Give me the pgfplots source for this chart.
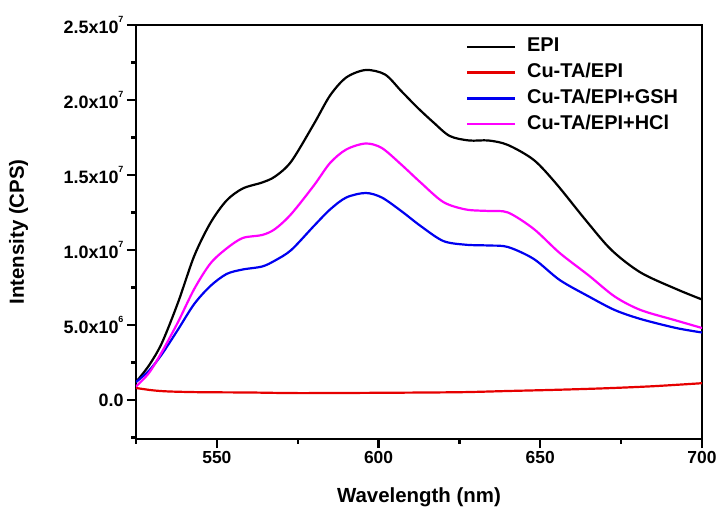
\documentclass[border=0pt]{standalone}
\usepackage{pgfplots}
\pgfplotsset{compat=1.18}
\usepackage{fontspec}
\setmainfont{Liberation Sans}
\definecolor{cRed}{HTML}{E60000}
\definecolor{cBlue}{HTML}{0000F0}
\definecolor{cMag}{HTML}{FF00FF}
\newcommand{\sci}[2]{#1x10\raisebox{0.62em}{\fontsize{9}{9}\selectfont #2}}

\begin{document}
\begin{tikzpicture}
\begin{axis}[
  scale only axis, width=566bp, height=414bp,
  xmin=525, xmax=700, ymin=-2.6e6, ymax=2.5e7,
  axis line style={line width=2.4bp},
  tick pos=left, tick align=outside,
  major tick length=9bp, minor tick length=4.5bp,
  every tick/.style={black, line width=2.2bp},
  xtick={550,600,650,700}, xticklabels={550,600,650,700},
  minor xtick={525,575,625,675},
  ytick={0,5e6,1e7,1.5e7,2e7,2.5e7},
  yticklabels={0.0, \sci{5.0}{6}, \sci{1.0}{7}, \sci{1.5}{7}, \sci{2.0}{7}, \sci{2.5}{7}},
  minor ytick={-2.5e6,2.5e6,7.5e6,1.25e7,1.75e7,2.25e7},
  scaled y ticks=false,
  xticklabel style={font=\fontsize{17.5}{17.5}\selectfont\bfseries},
  yticklabel style={font=\fontsize{18}{18}\selectfont\bfseries},
  label style={font=\fontsize{20.5}{20.5}\selectfont\bfseries},
  xlabel={Wavelength (nm)}, ylabel={Intensity (CPS)},
  xlabel style={at={(axis description cs:0.5,0)}, anchor=center, yshift=-58bp},
  ylabel style={at={(axis description cs:-0.2076,0.5)}, anchor=center},
  legend style={draw=none, fill=none, inner sep=0pt, outer sep=0pt,
    at={(0.5830,0.97)}, anchor=north west,
    font=\fontsize{20}{20}\selectfont\bfseries,
    nodes={inner sep=0pt, text height=14.5bp, text depth=4bp},
    row sep=7.4bp, column sep=11bp},
  legend cell align=left,
  legend image code/.code={\draw[#1] (0bp,0bp) -- (48bp,0bp);},
  every axis plot/.append style={line width=2.2bp, smooth, tension=0.5},
]
\addplot[black] coordinates {
(525,1.2e6) (529,2.3e6) (533,3.8e6) (538,6.5e6) (543,9.6e6) (548,11.8e6)
(553,13.3e6) (558,14.1e6) (564,14.5e6) (568,14.9e6) (573,15.9e6) (580,18.4e6)
(585,20.3e6) (590,21.5e6) (596,22.0e6) (602,21.7e6) (607,20.6e6) (612,19.5e6)
(617,18.5e6) (622,17.6e6) (628,17.3e6) (634,17.3e6) (640,17.0e6) (648,16.0e6)
(655,14.4e6) (664,12.0e6) (672,10.0e6) (681,8.5e6) (692,7.4e6) (700,6.7e6)};
\addlegendentry{EPI}
\addplot[cRed] coordinates {
(525,0.8e6) (530,0.65e6) (535,0.57e6) (545,0.52e6) (560,0.5e6) (575,0.46e6)
(600,0.48e6) (625,0.52e6) (640,0.6e6) (655,0.68e6) (670,0.78e6) (685,0.92e6) (700,1.12e6)};
\addlegendentry{Cu-TA/EPI}
\addplot[cBlue] coordinates {
(525,1.2e6) (529,1.95e6) (533,3.05e6) (538,4.7e6) (543,6.4e6) (548,7.6e6)
(553,8.4e6) (558,8.7e6) (564,8.9e6) (568,9.3e6) (573,10.0e6) (580,11.6e6)
(585,12.7e6) (590,13.5e6) (596,13.8e6) (601,13.5e6) (607,12.6e6) (613,11.6e6)
(620,10.6e6) (627,10.35e6) (634,10.3e6) (640,10.2e6) (648,9.4e6) (656,8.0e6)
(665,6.9e6) (673,6.0e6) (681,5.4e6) (692,4.8e6) (700,4.5e6)};
\addlegendentry{Cu-TA/EPI+GSH}
\addplot[cMag] coordinates {
(525,0.9e6) (529,1.8e6) (533,3.2e6) (538,5.2e6) (543,7.4e6) (548,9.1e6)
(553,10.1e6) (558,10.8e6) (564,11.0e6) (568,11.4e6) (573,12.4e6) (580,14.3e6)
(585,15.8e6) (590,16.7e6) (596,17.1e6) (601,16.8e6) (607,15.7e6) (613,14.5e6)
(620,13.2e6) (627,12.7e6) (634,12.6e6) (640,12.5e6) (648,11.4e6) (656,9.8e6)
(665,8.3e6) (673,6.9e6) (681,6.0e6) (692,5.3e6) (700,4.8e6)};
\addlegendentry{Cu-TA/EPI+HCl}
\end{axis}
\pgfresetboundingbox
\path[use as bounding box] (-136bp,-69bp) rectangle (581bp,439bp);
\end{tikzpicture}
\end{document}
